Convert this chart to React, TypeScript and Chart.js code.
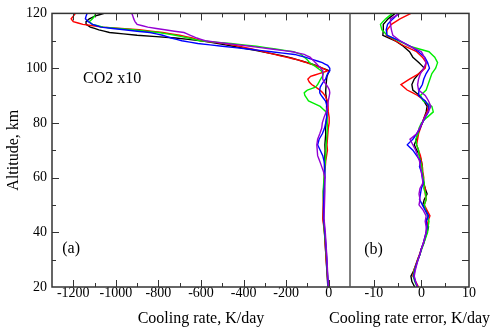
import React, { useEffect, useRef } from 'react';
import { Chart, registerables } from 'chart.js';

Chart.register(...registerables);

// ---------- Panel (a): cooling rate, K/day ----------
const ALT_A = [120, 119, 118, 117, 116, 115, 114, 113, 112, 111, 110, 109, 108, 107, 106, 105, 104, 103, 102, 101, 100, 99, 98, 97, 96, 95, 94, 93, 92, 91, 90,
  88, 86, 84, 82, 80, 78, 76, 74, 72, 70, 68, 66, 64, 62, 60,
  55, 50, 45, 40, 35, 30, 25, 20];

const BLACK_A = [-1055, -1100, -1125, -1140, -1140, -1120, -1080, -1030, -900, -720, -600, -520, -450, -380, -310, -250, -190, -145, -100, -60, -30, 3, -3, -8, -10, -11, -12, -13, -14, -14, -13,
  -9, -10, -10, -9, -12, -15, -14, -16, -18, -17, -18, -18, -20, -20, -20,
  -24, -24, -26, -20, -16, -12, -8, -4];
const RED_A = [-1190, -1200, -1210, -1200, -1155, -1060, -890, -780, -700, -640, -600, -490, -420, -360, -305, -255, -200, -145, -105, -65, -30, -5, -45, -85, -98, -92, -80, -60, -42, -28, -18,
  -6, -3, -2, 2, 2, -2, -4, -6, -8, -6, -10, -14, -16, -20, -20,
  -25, -26, -28, -20, -16, -12, -7, -3];
const GREEN_A = [-1095, -1100, -1110, -1125, -1110, -1060, -920, -800, -720, -660, -605, -460, -340, -250, -165, -130, -115, -100, -90, -70, -52, -35, -25, -30, -38, -45, -52, -62, -100, -115, -112,
  -95, -40, -12, -8, -7, -6, -8, -10, -12, -13, -14, -16, -18, -20, -22,
  -26, -24, -24, -20, -14, -10, -6, -3];
const BLUE_A = [-1135, -1140, -1143, -1130, -1110, -1070, -960, -840, -780, -740, -690, -615, -500, -380, -270, -160, -110, -70, -30, -5, 5, 5, -5, -10, -15, -25, -33, -40, -42, -42, -35,
  -15, -8, -8, -10, -14, -20, -30, -45, -52, -40, -28, -22, -19, -18, -18,
  -22, -24, -24, -18, -13, -9, -6, -2];
const PURPLE_A = [-925, -920, -916, -910, -900, -850, -770, -680, -650, -620, -580, -480, -370, -270, -170, -115, -88, -75, -62, -50, -38, -28, -28, -28, -28, -22, -12, -3, 3, 5, 3,
  -2, -5, -12, -22, -30, -33, -42, -52, -56, -54, -52, -42, -33, -24, -18,
  -18, -20, -22, -16, -12, -8, -5, -1];

// ---------- Panel (b): cooling rate error, K/day ----------
const ALT_B = [120, 118, 116, 114, 112, 110, 108, 106, 104, 102, 100, 98, 96, 94, 92, 90, 88, 86, 84, 82, 80, 78, 76, 74, 72, 70,
  68, 66, 64, 62, 60, 58, 56, 54, 52, 50, 48, 46, 44, 42, 40, 38, 36, 34, 32, 30, 28, 26, 24, 22, 20];

const BLACK_B = [-5.5, -7, -8, -8, -8.1, -5.5, -3.8, -2.5, -1.8, -0.5, 0.6, -0.5, -1.5, -2, -1.8, -0.4, 0.5, 1.2, 1.0, 0.6, 0.2, -0.3, -0.8, -1, -1.5, -1,
  -0.3, 0, 0.2, 0.2, 0.3, 0.5, 0.8, 1.2, 0.6, 0.3, 1, 1.4, 1.0, 1.5, 1.2, 0.8, 0.5, 0, -0.3, -0.8, -1.2, -1.6, -2.2, -2.0, -1.4];
const RED_B = [-2.2, -4.5, -6.3, -7.2, -7.4, -5.5, -3.5, -1.0, 0.2, 1.0, 0.8, -0.5, -2.5, -4.3, -3.0, -0.8, 0.8, 1.5, 1.2, 0.6, 0.2, -0.2, -0.6, -0.8, -1.0, -0.6,
  -0.2, 0, 0.2, 0.3, 0.5, 0.4, 0.8, 0.8, 1.0, 0.6, 1.2, 1.8, 1.4, 1.2, 1.0, 0.8, 0.4, 0, -0.4, -0.8, -1.2, -1.6, -1.8, -1.2, -0.6];
const GREEN_B = [-6.1, -7.5, -8.6, -8.3, -7.2, -4.8, -2.5, 1.6, 2.8, 3.4, 3.0, 2.2, 1.8, 1.4, 1.0, -0.2, 0.4, 2.2, 2.5, 1.2, 0, -0.5, -0.7, -1.2, -1.0, -0.6,
  -0.5, -0.2, 0.1, 0.2, 0.4, 0.6, 0.5, 0.9, 1.0, 0.6, 0.9, 1.3, 1.6, 1.4, 1.3, 0.9, 0.5, 0.1, -0.3, -0.7, -1.1, -1.5, -1.7, -1.4, -0.9];
const BLUE_B = [-4.8, -6, -7.1, -7.4, -7.2, -4.5, -2.3, -0.6, 0.7, 1.3, 1.7, 1.0, 0.5, 0.2, -0.5, -0.6, 0.8, 1.6, 1.5, 0.8, 0.2, -0.3, -1.0, -1.8, -3.0, -1.8,
  -1.0, -0.2, -0.4, 0.0, 0.2, 0.4, 0.0, -0.2, -0.4, 0.2, 0.8, 1.5, 1.0, 1.2, 1.0, 0.7, 0.4, 0, -0.3, -0.7, -1.1, -1.4, -1.6, -1.3, -0.8];
const PURPLE_B = [-4.5, -6.5, -6.5, -6.3, -6.0, -4.5, -2.5, 0, 0.6, 1.0, 0.5, -0.2, -0.6, -0.8, -0.6, 0.8, 1.5, 2.0, 1.4, 0.7, 0.2, -0.4, -1.0, -2.4, -1.8, -1.2,
  -0.8, -0.4, -0.2, 0, 0.2, 0.3, -0.3, -0.5, -0.3, -0.5, 0.4, 1.0, 0.8, 1.0, 1.0, 0.7, 0.4, 0, -0.3, -0.7, -1.0, -1.3, -1.5, -1.2, -0.8];

const SERIES_A = [BLACK_A, RED_A, GREEN_A, BLUE_A, PURPLE_A];
const SERIES_B = [BLACK_B, RED_B, GREEN_B, BLUE_B, PURPLE_B];
const COLORS = ['#000000', '#ff0000', '#00ee00', '#0000ff', '#9400d3'];

const XA_TICKS = [-1200, -1000, -800, -600, -400, -200, 0];
const XB_TICKS = [-10, 0, 10];
const Y_TICKS = [20, 40, 60, 80, 100, 120];

const XA_TITLE = 'Cooling rate, K/day';
const XB_TITLE = 'Cooling rate error, K/day';
const Y_TITLE = 'Altitude, km';

const LABELS = [
  { text: 'CO2 x10', axis: 'x', x: -1154, y: 96 },
  { text: '(a)', axis: 'x', x: -1252, y: 34 },
  { text: '(b)', axis: 'x2', x: -12, y: 33.5 },
];

const FONT = 'Liberation Serif';

const framePlugin = {
  id: 'frame',
  afterDraw(chart: any) {
    const { ctx, chartArea: a, scales } = chart;
    const xa = scales.x;
    const xb = scales.x2;
    const ys = scales.y;
    ctx.save();
    ctx.strokeStyle = '#333333';
    ctx.lineWidth = 1;
    const vTick = (px: number, len: number) => {
      ctx.beginPath();
      ctx.moveTo(px, a.bottom);
      ctx.lineTo(px, a.bottom - len);
      ctx.moveTo(px, a.top);
      ctx.lineTo(px, a.top + len);
      ctx.stroke();
    };
    for (let v = -1200; v <= 0; v += 100) {
      vTick(Math.round(xa.getPixelForValue(v)) + 0.5, v % 200 === 0 ? 7 : 4);
    }
    for (let v = -10; v <= 5; v += 5) {
      vTick(Math.round(xb.getPixelForValue(v)) + 0.5, v % 10 === 0 ? 7 : 4);
    }
    for (let v = 30; v <= 110; v += 10) {
      const py = Math.round(ys.getPixelForValue(v)) + 0.5;
      ctx.beginPath();
      ctx.moveTo(a.left, py);
      ctx.lineTo(a.left + (v % 20 === 0 ? 7 : 4), py);
      ctx.moveTo(a.right, py);
      ctx.lineTo(a.right - 7, py);
      ctx.stroke();
    }
    ctx.lineWidth = 1.5;
    ctx.strokeRect(a.left, a.top, a.right - a.left, a.bottom - a.top);
    ctx.beginPath();
    ctx.strokeStyle = '#555555';
    ctx.moveTo(xb.left, a.top);
    ctx.lineTo(xb.left, a.bottom);
    ctx.stroke();

    ctx.fillStyle = '#000';
    ctx.font = `16px "${FONT}"`;
    ctx.textAlign = 'left';
    ctx.textBaseline = 'middle';
    for (const l of LABELS) {
      const sx = scales[l.axis];
      ctx.fillText(l.text, sx.getPixelForValue(l.x), ys.getPixelForValue(l.y));
    }
    // title of panel (b), drawn without width squeezing
    ctx.textAlign = 'center';
    ctx.fillText(XB_TITLE, (xb.left + xb.right) / 2, xb.bottom - (16 * 1.2) / 2 - 7);
    ctx.restore();
  },
};

const fmt = (v: any) => String(v);

export default function App() {
  const ref = useRef<HTMLCanvasElement>(null);
  useEffect(() => {
    if (!ref.current) return;
    const datasets: any[] = [];
    SERIES_A.forEach((vals, i) => {
      datasets.push({
        data: vals.map((v, j) => ({ x: v, y: ALT_A[j] })),
        borderColor: COLORS[i],
        xAxisID: 'x',
        yAxisID: 'y',
        order: SERIES_A.length - i,
      });
    });
    SERIES_B.forEach((vals, i) => {
      datasets.push({
        data: vals.map((v, j) => ({ x: v, y: ALT_B[j] })),
        borderColor: COLORS[i],
        xAxisID: 'x2',
        yAxisID: 'y',
        order: SERIES_B.length - i,
      });
    });
    const tickFont = { family: FONT, size: 14 };
    const titleFont = { family: FONT, size: 16 };
    const chart = new Chart(ref.current, {
      type: 'line',
      data: { datasets },
      plugins: [framePlugin],
      options: {
        animation: false,
        responsive: true,
        maintainAspectRatio: false,
        layout: { padding: { top: 10, right: 31, left: 0, bottom: 0 } },
        plugins: { legend: { display: false }, tooltip: { enabled: false } },
        elements: {
          point: { radius: 0 },
          line: { borderWidth: 1.4, tension: 0.0001, fill: false },
        },
        scales: {
          x: {
            type: 'linear',
            position: 'bottom',
            stack: 'bottom',
            stackWeight: 298,
            min: -1300,
            max: 100,
            grid: { display: false, drawTicks: false },
            border: { display: false },
            afterBuildTicks: (s: any) => { s.ticks = XA_TICKS.map((value) => ({ value })); },
            afterFit: (s: any) => { s.height = 48; },
            ticks: { autoSkip: false, maxRotation: 0, padding: -2, color: '#000', font: tickFont, callback: fmt },
            title: { display: true, text: XA_TITLE, color: '#000', font: titleFont, padding: { top: 4, bottom: 7 } },
          },
          x2: {
            type: 'linear',
            position: 'bottom',
            stack: 'bottom',
            stackWeight: 119,
            min: -15,
            max: 10,
            grid: { display: false, drawTicks: false },
            border: { display: false },
            afterBuildTicks: (s: any) => { s.ticks = XB_TICKS.map((value) => ({ value })); },
            afterFit: (s: any) => { s.height = 48; },
            ticks: { autoSkip: false, maxRotation: 0, padding: -2, color: '#000', font: tickFont, callback: fmt },
            title: { display: false },
          },
          y: {
            type: 'linear',
            position: 'left',
            min: 20,
            max: 120,
            grid: { display: false, drawTicks: false },
            border: { display: false },
            afterBuildTicks: (s: any) => { s.ticks = Y_TICKS.map((value) => ({ value })); },
            afterFit: (s: any) => { s.width = 52; },
            ticks: { autoSkip: false, padding: 5, color: '#000', font: tickFont, callback: fmt },
            title: { display: true, text: Y_TITLE, color: '#000', font: titleFont, padding: { top: 4, bottom: 4 } },
          },
        },
      } as any,
    });
    return () => chart.destroy();
  }, []);
  return (
    <div style={{ position: 'fixed', left: 0, top: 0, width: 500, height: 335, background: '#fff' }}>
      <canvas ref={ref} />
    </div>
  );
}
